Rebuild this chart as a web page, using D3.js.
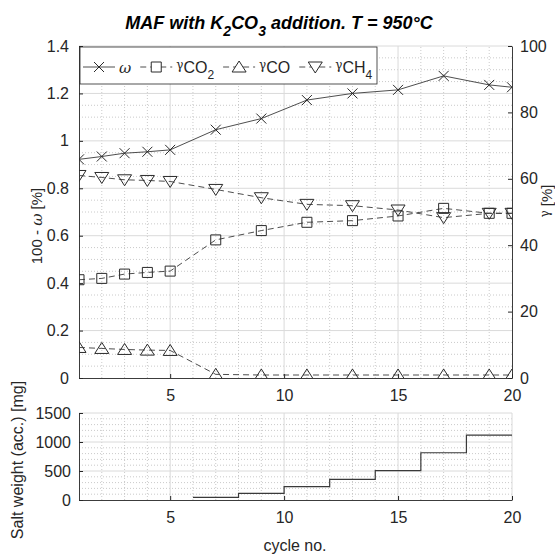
<!DOCTYPE html>
<html>
<head>
<meta charset="utf-8">
<script src="https://cdn.jsdelivr.net/npm/d3@7"></script>
<style>
  body { margin: 0; background: #fff; }
  svg { font-family: "Liberation Sans", Arial, sans-serif; }
</style>
</head>
<body>
<svg id="viz" width="555" height="554"></svg>
<script>
// values
var cycles = [1, 2, 3, 4, 5, 7, 9, 11, 13, 15, 17, 19, 20];
var omega = [0.922, 0.934, 0.948, 0.954, 0.962, 1.047, 1.094, 1.172, 1.200, 1.215, 1.274, 1.236, 1.226];
var gammaCO2 = [29.6, 30.0, 31.3, 31.8, 32.2, 41.6, 44.4, 46.9, 47.4, 48.8, 51.1, 49.6, 49.6];
var gammaCO = [9.2, 8.9, 8.6, 8.4, 8.3, 1.1, 0.9, 0.9, 0.9, 0.9, 0.9, 0.9, 0.9];
var gammaCH4 = [61.0, 60.4, 59.7, 59.5, 59.2, 56.8, 54.3, 52.3, 51.9, 50.6, 48.3, 49.6, 49.6];

var saltCycles = [6, 8, 10, 12, 14, 16, 18, 20];
var saltWeight = [46, 115, 230, 357, 506, 815, 1120, 1120];

var xTicks = [5, 10, 15, 20];
var leftTicks = [0, 0.2, 0.4, 0.6, 0.8, 1, 1.2, 1.4];
var rightTicks = [0, 20, 40, 60, 80, 100];
var saltTicks = [0, 500, 1000, 1500];

var axisColor = "#262626";
var lineColor = "#3a3a3a";

var svg = d3.select("#viz");

var x = d3.scaleLinear().domain([1, 20]).range([79, 512]);
var yL = d3.scaleLinear().domain([0, 1.4]).range([378, 46]);
var yR = d3.scaleLinear().domain([0, 100]).range([378, 46]);
var yS = d3.scaleLinear().domain([0, 1500]).range([500, 413]);

function drawGrid(g, xs, ys, xMinor, yMinor, xMajor, yMajor) {
    var x0 = xs.range()[0], x1 = xs.range()[1];
    var y0 = ys.range()[0], y1 = ys.range()[1];
    g.selectAll(".vmin").data(xMinor).enter().append("line")
        .attr("x1", d => xs(d)).attr("x2", d => xs(d)).attr("y1", y0).attr("y2", y1)
        .attr("stroke", "#bdbdbd").attr("stroke-width", 0.8).attr("stroke-dasharray", "1,2");
    g.selectAll(".hmin").data(yMinor).enter().append("line")
        .attr("y1", d => ys(d)).attr("y2", d => ys(d)).attr("x1", x0).attr("x2", x1)
        .attr("stroke", "#bdbdbd").attr("stroke-width", 0.8).attr("stroke-dasharray", "1,2");
    g.selectAll(".vmaj").data(xMajor).enter().append("line")
        .attr("x1", d => xs(d)).attr("x2", d => xs(d)).attr("y1", y0).attr("y2", y1)
        .attr("stroke", "#dadada").attr("stroke-width", 1);
    g.selectAll(".hmaj").data(yMajor).enter().append("line")
        .attr("y1", d => ys(d)).attr("y2", d => ys(d)).attr("x1", x0).attr("x2", x1)
        .attr("stroke", "#dadada").attr("stroke-width", 1);
}

// ---------- top panel ----------
var topPanel = svg.append("g");
drawGrid(topPanel, x, yL,
    d3.range(2, 20).filter(d => d % 5 != 0),
    d3.range(0.05, 1.4, 0.05).filter(d => Math.abs(d * 5 - Math.round(d * 5)) > 1e-6),
    [5, 10, 15], [0.2, 0.4, 0.6, 0.8, 1, 1.2, 1.4]);

svg.append("defs").append("clipPath").attr("id", "clipTop")
    .append("rect").attr("x", 79).attr("y", 46).attr("width", 433).attr("height", 332);

function markerPath(type) {
    if (type == "x") return "M-5,-5L5,5M-5,5L5,-5";
    if (type == "square") return "M-5,-5H5V5H-5Z";
    if (type == "up") return "M0,-6L7,5H-7Z";
    if (type == "down") return "M0,6L7,-5H-7Z";
}

var series = [
    {name: "omega", values: omega, scale: yL, marker: "x", dash: null},
    {name: "CO2", values: gammaCO2, scale: yR, marker: "square", dash: "6,4"},
    {name: "CO", values: gammaCO, scale: yR, marker: "up", dash: "6,4"},
    {name: "CH4", values: gammaCH4, scale: yR, marker: "down", dash: "6,4"}
];

var plot = svg.append("g").attr("clip-path", "url(#clipTop)");

series.forEach(function(s) {
    var pts = cycles.map((c, i) => [c, s.values[i]]);
    var line = d3.line().x(d => x(d[0])).y(d => s.scale(d[1]));
    plot.append("path")
        .attr("d", line(pts))
        .attr("fill", "none")
        .attr("stroke", lineColor)
        .attr("stroke-width", 0.9)
        .attr("stroke-dasharray", s.dash);
    plot.selectAll(null).data(pts).enter().append("path")
        .attr("d", markerPath(s.marker))
        .attr("transform", d => "translate(" + x(d[0]) + "," + s.scale(d[1]) + ")")
        .attr("fill", "none")
        .attr("stroke", "#2a2a2a")
        .attr("stroke-width", 1);
});

// axes
topPanel.append("g").attr("transform", "translate(0,378)")
    .call(d3.axisBottom(x).tickValues(xTicks).tickSizeInner(-4).tickSizeOuter(0).tickPadding(12));
topPanel.append("g").attr("transform", "translate(79,0)")
    .call(d3.axisLeft(yL).tickValues(leftTicks).tickFormat(d3.format("~g")).tickSizeInner(-4).tickSizeOuter(0).tickPadding(10));
topPanel.append("g").attr("transform", "translate(512,0)")
    .call(d3.axisRight(yR).tickValues(rightTicks).tickSizeInner(-4).tickSizeOuter(0).tickPadding(8));

// ---------- legend ----------
var legend = svg.append("g");
legend.append("rect").attr("x", 80).attr("y", 47).attr("width", 297).attr("height", 37)
    .attr("fill", "#fff").attr("stroke", axisColor).attr("stroke-width", 0.8);

var legendLabels = [
    {main: "ω", sub: null, italic: true},
    {main: "γ", sub: "CO", sub2: "2"},
    {main: "γ", sub: "CO"},
    {main: "γ", sub: "CH", sub2: "4"}
];

var lx = 83, ly = 67;
series.forEach(function(s, i) {
    var g = legend.append("g");
    g.append("line").attr("x1", lx).attr("x2", lx + 32).attr("y1", ly).attr("y2", ly)
        .attr("stroke", lineColor).attr("stroke-width", 0.9).attr("stroke-dasharray", s.dash);
    g.append("path").attr("d", markerPath(s.marker))
        .attr("transform", "translate(" + (lx + 16) + "," + ly + ")")
        .attr("fill", "#fff").attr("stroke", "#2a2a2a");
    var lab = legendLabels[i];
    var t = g.append("text").attr("x", lx + 36).attr("y", ly + 6)
        .attr("font-size", 16).attr("fill", axisColor);
    if (lab.italic) {
        t.append("tspan").attr("font-style", "italic").attr("font-family", "DejaVu Serif").attr("font-size", 15).text(lab.main);
    } else {
        t.append("tspan").attr("font-size", 12).attr("dy", -4).attr("font-family", "DejaVu Serif").text(lab.main);
        t.append("tspan").attr("dy", 4).text(lab.sub);
        if (lab.sub2) t.append("tspan").attr("font-size", 12).attr("dy", 6).text(lab.sub2);
    }
    var w = t.node().getComputedTextLength();
    lx = lx + 36 + w + 9;
});

// ---------- bottom panel ----------
var bottomPanel = svg.append("g");
drawGrid(bottomPanel, x, yS,
    d3.range(2, 20).filter(d => d % 5 != 0),
    d3.range(100, 1500, 100).filter(d => d % 500 != 0),
    [5, 10, 15, 20], [500, 1000, 1500]);

var stairs = d3.line().curve(d3.curveStepAfter).x(d => x(d[0])).y(d => yS(d[1]));
bottomPanel.append("path")
    .attr("d", stairs(saltCycles.map((c, i) => [c, saltWeight[i]])))
    .attr("fill", "none").attr("stroke", lineColor).attr("stroke-width", 1.2);

bottomPanel.append("g").attr("transform", "translate(0,500)")
    .call(d3.axisBottom(x).tickValues(xTicks).tickSizeInner(-4).tickSizeOuter(0).tickPadding(12));
bottomPanel.append("g").attr("transform", "translate(79,0)")
    .call(d3.axisLeft(yS).tickValues(saltTicks).tickFormat(d3.format("d")).tickSizeInner(-4).tickSizeOuter(0).tickPadding(8));

// axis styling
svg.selectAll(".domain").attr("stroke", axisColor).attr("stroke-width", 0.9);
svg.selectAll(".tick line").attr("stroke", axisColor);
svg.selectAll(".tick text").attr("font-size", 16).attr("fill", axisColor)
    .attr("font-family", "Liberation Sans, Arial, sans-serif");

// ---------- titles and labels ----------
var title = svg.append("text").attr("x", 279).attr("y", 29).attr("text-anchor", "middle")
    .attr("font-size", 18).attr("font-weight", "bold").attr("font-style", "italic").attr("fill", "#000");
title.append("tspan").text("MAF with K");
title.append("tspan").attr("font-size", 14).attr("dy", 7).text("2");
title.append("tspan").attr("dy", -7).text("CO");
title.append("tspan").attr("font-size", 14).attr("dy", 7).text("3");
title.append("tspan").attr("dy", -7).text(" addition. T = 950°C");

var yLabL = svg.append("text").attr("transform", "translate(42,226) rotate(-90)")
    .attr("text-anchor", "middle").attr("font-size", 15).attr("fill", axisColor);
yLabL.append("tspan").text("100 - ");
yLabL.append("tspan").attr("font-style", "italic").attr("font-family", "DejaVu Serif").text("ω");
yLabL.append("tspan").text(" [%]");

var yLabR = svg.append("text").attr("transform", "translate(552,201) rotate(-90)")
    .attr("text-anchor", "middle").attr("font-size", 15).attr("fill", axisColor);
yLabR.append("tspan").attr("font-size", 12).attr("dy", -3).attr("font-family", "DejaVu Serif").text("γ");
yLabR.append("tspan").attr("dy", 3).text(" [%]");

svg.append("text").attr("transform", "translate(23,460) rotate(-90)")
    .attr("text-anchor", "middle").attr("font-size", 16).attr("fill", axisColor)
    .text("Salt weight (acc.) [mg]");

svg.append("text").attr("x", 295).attr("y", 551).attr("text-anchor", "middle")
    .attr("font-size", 16).attr("fill", axisColor).text("cycle no.");
</script>
</body>
</html>
